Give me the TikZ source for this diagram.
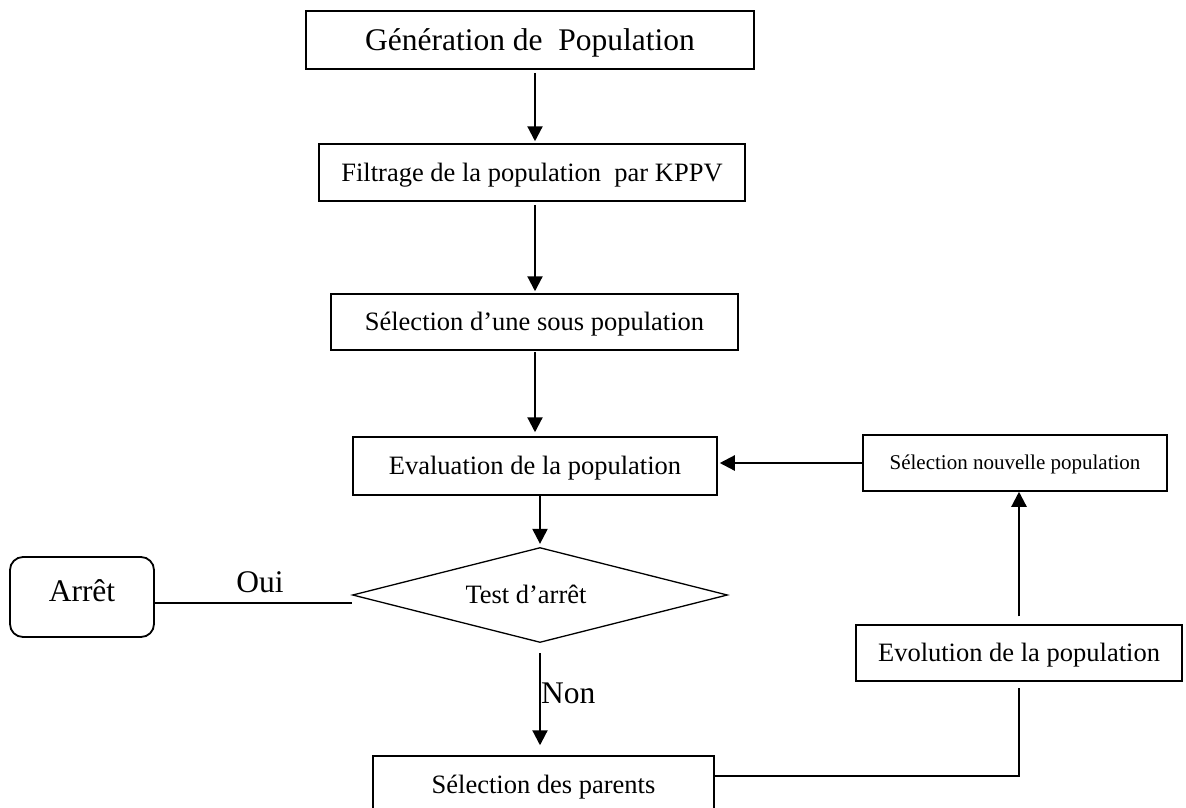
\documentclass[tikz,border=0pt]{standalone}
\usepackage{fontspec}
\setmainfont{Liberation Serif}
\usetikzlibrary{arrows.meta,shapes.geometric}

\begin{document}
\begin{tikzpicture}[x=1pt,y=-1pt,
  box/.style={draw,line width=1.5pt,fill=white,inner sep=0pt,
    text height=17.5pt,text depth=0pt,font=\fontsize{26.5}{30}\selectfont},
  bigtxt/.style={font=\fontsize{31.5}{36}\selectfont,text height=20.8pt},
  smalltxt/.style={font=\fontsize{21}{25}\selectfont,text height=13.9pt},
  decision/.style={diamond,draw,line width=1.3pt,fill=white,inner sep=0pt},
  stopbox/.style={draw,line width=1.8pt,rounded corners=13pt,inner sep=0pt,
    text height=20.8pt,text depth=12.6pt,font=\fontsize{31.5}{36}\selectfont},
  arr/.style={line width=2.2pt,-{Triangle[length=15pt,width=15pt]}},
  link/.style={line width=1.6pt},
]
\useasboundingbox (0,0) rectangle (1186,807);
\fill[white] (0,0) rectangle (1186,807);
\clip (0,0) rectangle (1186,807);

% process steps
\node[box,bigtxt,minimum width=448pt,minimum height=58pt] (gen) at (530,40)
  {Génération de~ Population};
\node[box,minimum width=426pt,minimum height=57pt] (filt) at (532,172.5)
  {Filtrage de la population~ par KPPV};
\node[box,minimum width=407pt,minimum height=56pt] (sel) at (534.5,322)
  {Sélection d’une sous population};
\node[box,minimum width=364pt,minimum height=58pt] (eval) at (535,466)
  {Evaluation de la population};
\node[box,smalltxt,minimum width=304pt,minimum height=56pt] (selnouv) at (1015,463)
  {Sélection nouvelle population};
\node[box,minimum width=326pt,minimum height=56pt] (evol) at (1019,653)
  {Evolution de la population};
\node[box,minimum width=341pt,minimum height=57pt] (parents) at (543.5,784.5)
  {Sélection des parents};

% stop test and exit
\node[decision,minimum width=375pt,minimum height=95pt] (test) at (540,595) {};
\node[inner sep=0pt,text height=17.5pt,text depth=0pt,
  font=\fontsize{26.5}{30}\selectfont] (testtxt) at (526,595) {Test d’arrêt};
\node[stopbox,minimum width=144pt,minimum height=80pt] (arret) at (82,597) {Arrêt};

% connectors
\coordinate (axis) at (535,0);
\draw[arr,shorten <=3pt,shorten >=2pt] (gen.south -| axis) -- (filt.north -| axis);
\draw[arr,shorten <=3pt,shorten >=2pt] (filt.south -| axis) -- (sel.north -| axis);
\draw[arr,shorten <=1pt,shorten >=4pt] (sel.south -| axis) -- (eval.north -| axis);
\draw[arr,shorten >=3pt] (eval.south -| test.north) -- (test.north);
\draw[arr,shorten <=10pt,shorten >=10pt] (test.south) -- (test.south |- parents.north);
\draw[arr,shorten <=8pt] (evol.north) -- (selnouv.south -| evol.north);
\draw[arr,shorten >=2pt] (selnouv.west) -- (selnouv.west -| eval.east);
\draw[link] ([yshift=8.5pt]parents.east) -| ([yshift=-6pt]evol.south);
\draw[line width=2pt] ([yshift=-6pt]arret.east) -- ([yshift=-6pt]arret.east -| test.west);

% branch labels
\node[font=\fontsize{31.5}{36}\selectfont,inner sep=0pt,anchor=base] (oui) at (260,592) {Oui};
\node[font=\fontsize{31.5}{36}\selectfont,inner sep=0pt,anchor=base west] (non) at (541,703) {Non};
\end{tikzpicture}
\end{document}
